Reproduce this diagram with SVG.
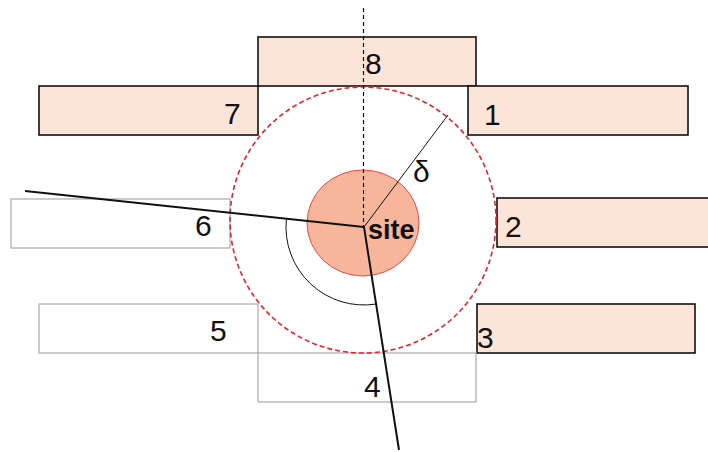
<svg xmlns="http://www.w3.org/2000/svg" width="708" height="452" viewBox="0 0 708 452">
<style>
.solid{fill:#fde4d9;stroke:#111;stroke-width:1.6}
.ghost{fill:none;stroke:#aaa;stroke-width:1.2}
.lbl{font-family:"Liberation Sans",Arial,sans-serif;font-size:30px;fill:#111}
.site{font-family:"Liberation Sans",Arial,sans-serif;font-size:27px;font-weight:bold;fill:#111}
</style>
<rect width="708" height="452" fill="#fff"/>
<g id="n8"><rect class="solid" x="258" y="37" width="218" height="49"/><text class="lbl" x="365" y="74">8</text></g>
<g id="n7"><rect class="solid" x="39" y="86" width="219" height="49"/><text class="lbl" x="224" y="124">7</text></g>
<g id="n1"><rect class="solid" x="468" y="86" width="220" height="49"/><text class="lbl" x="484" y="125">1</text></g>
<g id="n2"><rect class="solid" x="497" y="198" width="215" height="49"/><text class="lbl" x="505" y="237">2</text></g>
<g id="n3"><rect class="solid" x="477" y="304" width="218" height="49"/><text class="lbl" x="477" y="348">3</text></g>
<g id="n6"><rect class="ghost" x="11" y="199" width="219" height="49"/><text class="lbl" x="195" y="236">6</text></g>
<g id="n5"><rect class="ghost" x="39" y="304" width="219" height="49"/><text class="lbl" x="210" y="341">5</text></g>
<g id="n4"><rect class="ghost" x="258" y="353" width="218" height="49"/><text class="lbl" x="364" y="397">4</text></g>
<g id="zone"><circle cx="363" cy="220" r="133" fill="none" stroke="#e8232a" stroke-width="1.6" stroke-dasharray="5,3"/></g>
<g id="site"><ellipse cx="363" cy="223" rx="56" ry="53" fill="#f7b59c" stroke="#e84a4a" stroke-width="1"/><text class="site" x="368" y="239">site</text></g>
<g id="connectors" fill="none" stroke="#111">
<line x1="363.5" y1="8" x2="363.5" y2="227" stroke-width="1.2" stroke-dasharray="4,3"/>
<line x1="364" y1="227" x2="448" y2="115" stroke-width="1"/>
<line x1="25" y1="191" x2="364" y2="227" stroke-width="2"/>
<line x1="364" y1="227" x2="399" y2="450" stroke-width="2"/>
<path d="M286.4,218.8 A78,78 0 0 0 376.4,304" stroke-width="1"/>
</g>
<text class="lbl" x="413" y="182">δ</text>
</svg>
